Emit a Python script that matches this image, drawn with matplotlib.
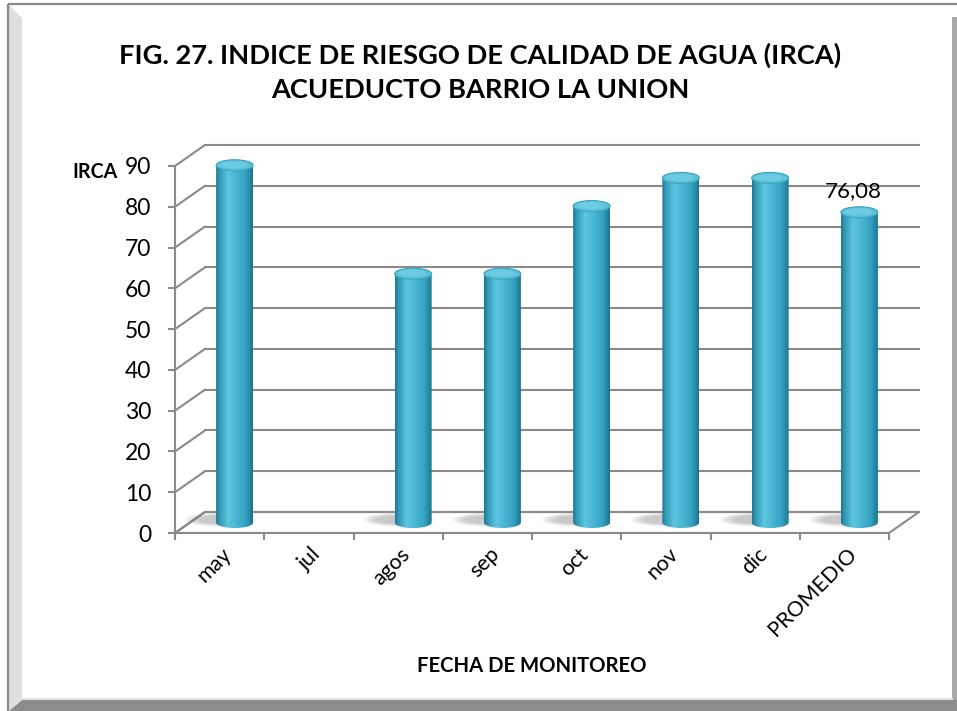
import numpy as np
import matplotlib
matplotlib.use("Agg")
import matplotlib.pyplot as plt
from matplotlib.patches import Ellipse, PathPatch, Polygon
from matplotlib.path import Path
from matplotlib.transforms import ScaledTranslation
from matplotlib.colors import LinearSegmentedColormap

# ---- data -------------------------------------------------------------
categories = ["may", "jul", "agos", "sep", "oct", "nov", "dic", "PROMEDIO"]
irca = [87.6, None, 61.0, 61.0, 77.6, 84.5, 84.5, 76.08]
labelled = {7: "76,08"}
yticks = [0, 10, 20, 30, 40, 50, 60, 70, 80, 90]

title_lines = ["FIG. 27. INDICE DE RIESGO DE CALIDAD DE AGUA (IRCA)",
               "ACUEDUCTO BARRIO LA UNION"]
y_label = "IRCA"
x_label = "FECHA DE MONITOREO"

# ---- figure / layout --------------------------------------------------
W, H = 957, 711
plt.rcParams["font.family"] = ["Lato", "DejaVu Sans"]
fig = plt.figure(figsize=(W / 100, H / 100), dpi=100)

GRID = "#8a8a8a"
LW = 1.5

# frame (pixel coordinates, y pointing down)
bg = fig.add_axes([0, 0, 1, 1], zorder=0)
bg.set_xlim(0, W)
bg.set_ylim(H, 0)
bg.axis("off")
bg.add_patch(Polygon([(9, 5), (22, 18), (22, 699), (9, 711)],
                     closed=True, fc="#dedede", ec="none"))
bg.add_patch(Polygon([(9, 711), (22, 700), (957, 700), (957, 711)],
                     closed=True, fc="#8c8c8c", ec="none"))
bg.add_patch(Polygon([(952, 17), (957, 17), (957, 700), (952, 700)],
                     closed=True, fc="#a8a8a8", ec="none"))
bg.plot([22, 952], [698.5, 698.5], color="#e2e2e2", lw=1.5)
bg.plot([8, 957], [4, 4], color=GRID, lw=1.6, solid_capstyle="butt")
bg.plot([8, 8], [4, 711], color=GRID, lw=1.6, solid_capstyle="butt")

# chart axes: front plane of the 3-D box
PX_CAT = 89.25          # pixels per category
PX_VAL = 4.078          # pixels per IRCA unit
X_LEFT, Y_ZERO = 175, 533
RIGHT_PX, TOP_VAL = 925, 96
ax = fig.add_axes([X_LEFT / W, (H - Y_ZERO) / H,
                   (RIGHT_PX - X_LEFT) / W, TOP_VAL * PX_VAL / H], zorder=1)
ax.set_facecolor("none")
XMIN = -0.5
XMAX = XMIN + (RIGHT_PX - X_LEFT) / PX_CAT
n = len(categories)
DX = 30 / PX_CAT        # depth offset (category units)
DY = 21 / PX_VAL        # depth offset (value units)

# floor
ax.add_patch(Polygon([(XMIN, 0), (n - 0.5, 0), (n - 0.5 + DX, DY), (XMIN + DX, DY)],
                     closed=True, fc="white", ec=GRID, lw=LW, zorder=1))
# walls: side diagonals and back-wall grid lines
for v in yticks:
    ax.plot([XMIN, XMIN + DX], [v, v + DY], color=GRID, lw=LW, zorder=1,
            solid_capstyle="round")
    ax.plot([XMIN + DX, n - 0.5 + DX], [v + DY, v + DY], color=GRID, lw=LW,
            zorder=1)

# cylinders
cmap = LinearSegmentedColormap.from_list(
    "cyl", [(0.0, "#1f7690"), (0.10, "#3299b6"), (0.33, "#5ec6df"),
            (0.50, "#4dbad6"), (0.80, "#35a2c2"), (0.93, "#2586a2"),
            (1.0, "#1c6f86")])
grad = np.linspace(0, 1, 256).reshape(1, -1)
HW = 18.5 / PX_CAT
E = 5.5 / PX_VAL
base = DY / 2
for i, v in enumerate(irca):
    if v is None:
        continue
    cx = i + DX / 2
    # soft shadow on the floor
    for k in range(6):
        ax.add_patch(Ellipse((cx - 0.16, base + 0.7), 0.8 - 0.06 * k, 3.4 - 0.3 * k,
                             fc="#6e6e6e", ec="none", alpha=0.07, zorder=2))
    t = np.linspace(np.pi, 2 * np.pi, 60)
    bottom = np.column_stack([cx + HW * np.cos(t), base + E * np.sin(t)])
    t2 = np.linspace(0, np.pi, 60)
    top = np.column_stack([cx + HW * np.cos(t2), base + v + E * np.sin(t2)])
    verts = np.vstack([[[cx - HW, base + v]], bottom, [[cx + HW, base + v]], top,
                       [[cx - HW, base + v]]])
    body = PathPatch(Path(verts, closed=True), fc="none", ec="none", zorder=3)
    ax.add_patch(body)
    im = ax.imshow(grad, cmap=cmap, aspect="auto", zorder=3,
                   extent=(cx - HW, cx + HW, base - E, base + v + E),
                   interpolation="bilinear")
    im.set_clip_path(body)
    ax.add_patch(Ellipse((cx, base + v), 2 * HW, 2 * E, fc="#5cc0d9",
                         ec="#3ea4bf", lw=0.8, zorder=4))
    ax.add_patch(Ellipse((cx - 0.015, base + v + 0.12), 1.55 * HW, 1.35 * E,
                         fc="#6acbe2", ec="none", zorder=4))
    if i in labelled:
        lab = ax.text(cx, base + v + E, labelled[i], ha="center", va="baseline",
                      fontsize=16, zorder=5)
        lab.set_transform(ax.transData +
                          ScaledTranslation(-6 / 100, 10 / 100, fig.dpi_scale_trans))

ax.set_xlim(XMIN, XMAX)
ax.set_ylim(0, TOP_VAL)

# axes lines and ticks
for s in ("top", "right"):
    ax.spines[s].set_visible(False)
ax.spines["left"].set_bounds(0, 90)
ax.spines["bottom"].set_bounds(XMIN, n - 0.5)
for s in ("left", "bottom"):
    ax.spines[s].set_color(GRID)
    ax.spines[s].set_linewidth(LW)
ax.set_yticks(yticks)
ax.set_yticklabels([str(v) for v in yticks])
ax.tick_params(axis="y", direction="out", length=5, width=LW, color=GRID,
               pad=12, labelsize=16.5)
ax.set_xticks(range(n))
ax.set_xticks(np.arange(n + 1) - 0.5, minor=True)
ax.tick_params(axis="x", which="major", length=0, pad=13, labelsize=15.5)
ax.tick_params(axis="x", which="minor", direction="out", length=5, width=LW,
               color=GRID)
ax.set_xticklabels(categories, rotation=45, ha="right", va="center",
                   rotation_mode="anchor")
shift = ScaledTranslation(9 / 100, 0, fig.dpi_scale_trans)
for lbl in ax.get_xticklabels():
    lbl.set_transform(lbl.get_transform() + shift)


def fit(txt, target_px, **kw):
    t = fig.text(0, 0, txt, **kw)
    r = fig.canvas.get_renderer()
    w = t.get_window_extent(r).width
    size = t.get_fontsize() * target_px / w
    t.remove()
    return size


tsize = fit(title_lines[0], 722, fontsize=20, fontweight="bold")
fig.text(480 / W, 1 - 55 / H, title_lines[0], ha="center", va="center",
         fontsize=tsize, fontweight="bold")
fig.text(480 / W, 1 - 90 / H, title_lines[1], ha="center", va="center",
         fontsize=tsize, fontweight="bold")
fig.text(532 / W, 1 - 666 / H, x_label, ha="center", va="center",
         fontsize=fit(x_label, 229, fontsize=12, fontweight="bold"),
         fontweight="bold")
fig.text(118 / W, 1 - 172 / H, y_label, ha="right", va="center",
         fontsize=fit(y_label, 45, fontsize=12, fontweight="bold"),
         fontweight="bold")

fig.savefig("out.png", dpi=100)
